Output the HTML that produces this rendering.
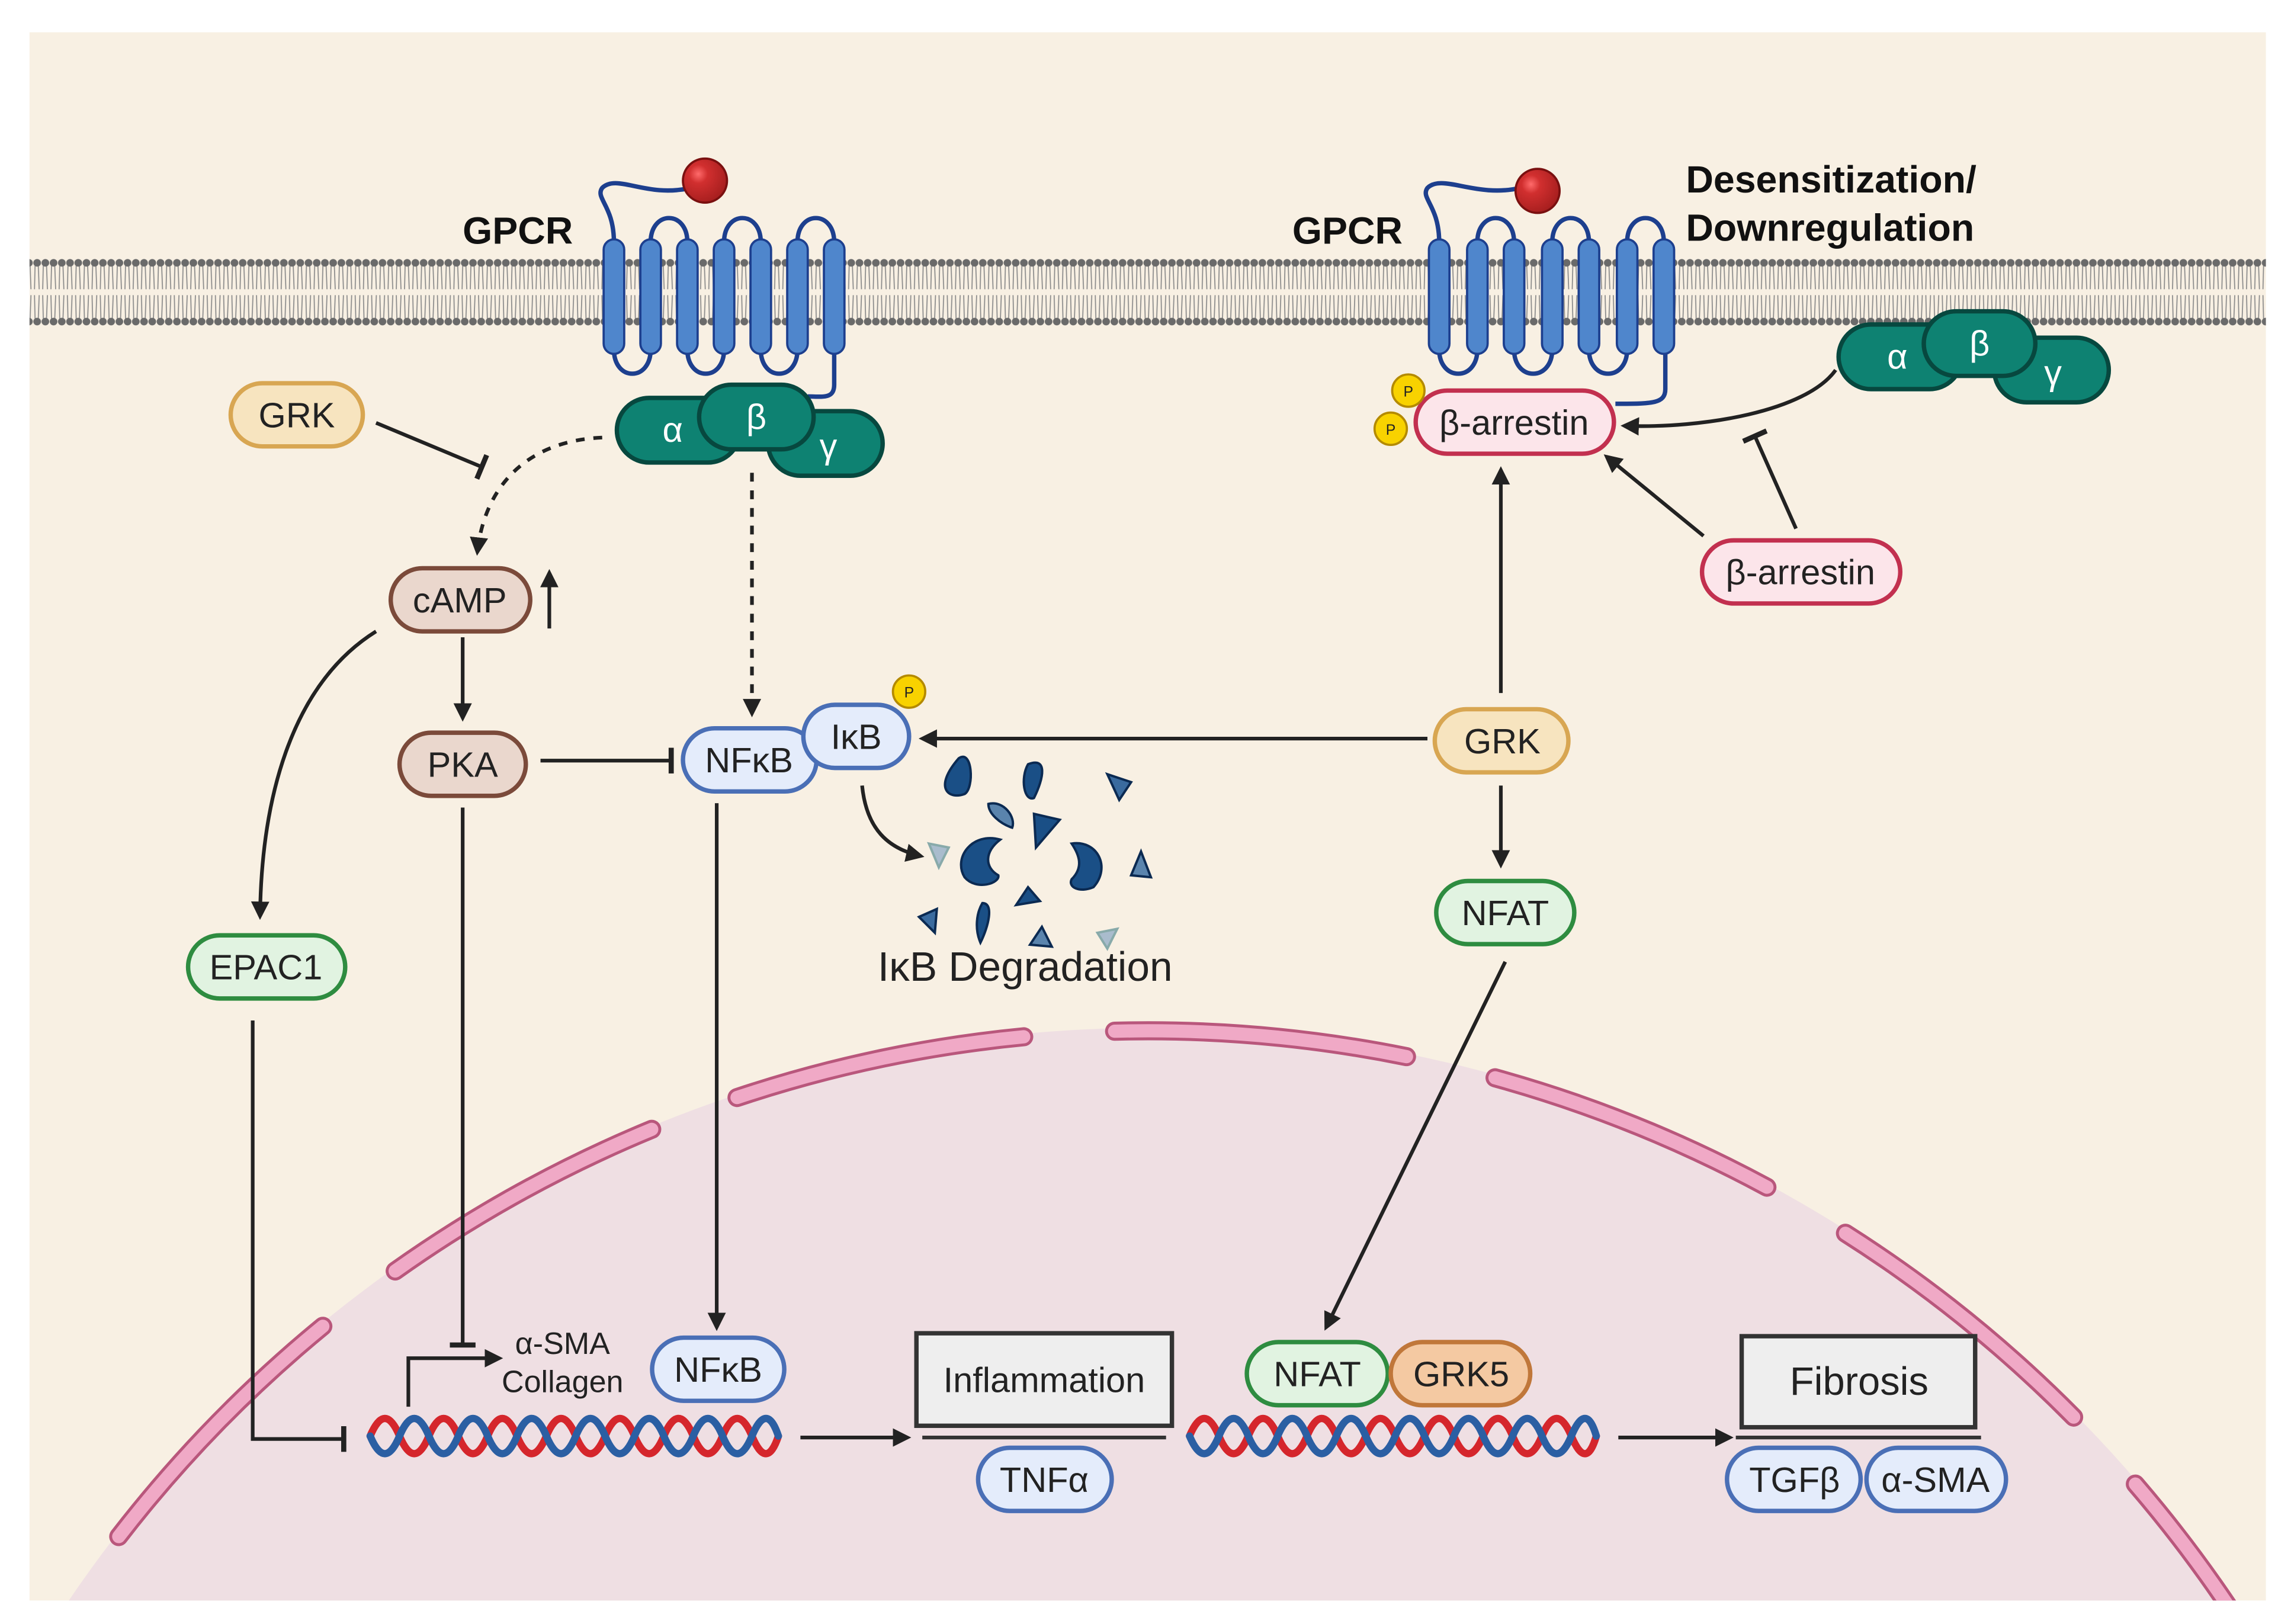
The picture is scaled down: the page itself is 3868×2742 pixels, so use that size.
<!DOCTYPE html>
<html><head><meta charset="utf-8"><style>
html,body{margin:0;padding:0;background:#fff;width:3868px;height:2742px;overflow:hidden}
svg{display:block;position:absolute;left:0;top:0}
text{font-family:"Liberation Sans",sans-serif}
</style></head><body>
<svg width="3868" height="2742" viewBox="0 0 1560 1106" xmlns="http://www.w3.org/2000/svg">
<defs>
<pattern id="mem" x="0" y="175" width="5.6" height="48" patternUnits="userSpaceOnUse">
<line x1="1.4" y1="6" x2="1.0" y2="22" stroke="#8a8a8a" stroke-width="0.7"/>
<line x1="3.6" y1="6" x2="4.2" y2="22" stroke="#8a8a8a" stroke-width="0.7"/>
<line x1="1.0" y1="26" x2="1.4" y2="42" stroke="#8a8a8a" stroke-width="0.7"/>
<line x1="4.2" y1="26" x2="3.6" y2="42" stroke="#8a8a8a" stroke-width="0.7"/>
<circle cx="2.8" cy="4" r="2.6" fill="#6a6a6a"/>
<circle cx="2.8" cy="44" r="2.6" fill="#6a6a6a"/>
</pattern>
<marker id="ah" viewBox="0 0 10 10" refX="8" refY="5" markerWidth="5" markerHeight="5" orient="auto-start-reverse"><path d="M0,0 L10,5 L0,10 z" fill="#222"/></marker>
<marker id="tb" viewBox="0 0 4 20" refX="2" refY="10" markerWidth="2" markerHeight="7" orient="auto"><rect x="0" y="0" width="4" height="20" fill="#222"/></marker>
<clipPath id="panel"><rect x="20" y="22" width="1523" height="1068"/></clipPath>
<radialGradient id="ball" cx="0.35" cy="0.35" r="0.7"><stop offset="0" stop-color="#ff6b6b"/><stop offset="0.3" stop-color="#d12f2f"/><stop offset="1" stop-color="#a51e1e"/></radialGradient>
</defs>
<rect x="0" y="0" width="1560" height="1106" fill="#fff"/>
<rect x="20" y="22" width="1523" height="1068" fill="#f8f0e3"/>
<g clip-path="url(#panel)">
<circle cx="782" cy="1588" r="888" fill="#efdfe3"/>
<circle cx="782" cy="1588" r="886" fill="none" stroke="#b9577c" stroke-width="13" stroke-dasharray="200 62" stroke-dashoffset="40" stroke-linecap="round"/>
<circle cx="782" cy="1588" r="886" fill="none" stroke="#f0a9c6" stroke-width="9" stroke-dasharray="200 62" stroke-dashoffset="40" stroke-linecap="round"/>
</g>
<rect x="20" y="175" width="1523" height="48" fill="url(#mem)"/>

<!-- GPCR left -->
<g stroke="#1d3f8e" stroke-width="3" fill="none">
<path d="M418 165 C418 140 405 135 410 128 C420 118 440 135 470 128"/>
<path d="M443 165 C443 143 468 143 468 165 M493 165 C493 143 518 143 518 165 M543 165 C543 143 568 143 568 165"/>
<path d="M418 238 C418 260 443 260 443 238 M468 238 C468 260 493 260 493 238 M518 238 C518 260 543 260 543 238"/>
<path d="M568 238 L568 262 C568 272 560 270 550 270"/>
</g>
<g fill="#4f86cc" stroke="#1d3f8e" stroke-width="1.5">
<rect x="411" y="163" width="14" height="78" rx="7"/><rect x="436" y="163" width="14" height="78" rx="7"/><rect x="461" y="163" width="14" height="78" rx="7"/><rect x="486" y="163" width="14" height="78" rx="7"/><rect x="511" y="163" width="14" height="78" rx="7"/><rect x="536" y="163" width="14" height="78" rx="7"/><rect x="561" y="163" width="14" height="78" rx="7"/>
</g>
<circle cx="480" cy="123" r="15" fill="url(#ball)" stroke="#7a1010" stroke-width="1.5"/>
<text x="315" y="166" font-size="26" font-weight="bold" fill="#111">GPCR</text>
<g stroke="#07483f" stroke-width="3" fill="#0e8272">
<rect x="523" y="280" width="78" height="44" rx="22"/>
<rect x="420" y="271" width="84" height="44" rx="22"/>
<rect x="476" y="262" width="78" height="44" rx="22"/>
</g>
<g fill="#fff" font-size="24" text-anchor="middle"><text x="458" y="301">α</text><text x="515" y="292">β</text><text x="564" y="312">γ</text></g>

<!-- GPCR right -->
<g stroke="#1d3f8e" stroke-width="3" fill="none">
<path d="M980 165 C980 140 967 135 972 128 C982 118 1005 135 1035 128"/>
<path d="M1006 165 C1006 143 1031 143 1031 165 M1057 165 C1057 143 1082 143 1082 165 M1108 165 C1108 143 1133 143 1133 165"/>
<path d="M980 238 C980 260 1006 260 1006 238 M1031 238 C1031 260 1057 260 1057 238 M1082 238 C1082 260 1108 260 1108 238"/>
<path d="M1134 238 L1134 265 C1134 275 1125 275 1100 275"/>
</g>
<g fill="#4f86cc" stroke="#1d3f8e" stroke-width="1.5">
<rect x="973" y="163" width="14" height="78" rx="7"/><rect x="999" y="163" width="14" height="78" rx="7"/><rect x="1024" y="163" width="14" height="78" rx="7"/><rect x="1050" y="163" width="14" height="78" rx="7"/><rect x="1075" y="163" width="14" height="78" rx="7"/><rect x="1101" y="163" width="14" height="78" rx="7"/><rect x="1126" y="163" width="14" height="78" rx="7"/>
</g>
<circle cx="1047" cy="130" r="15" fill="url(#ball)" stroke="#7a1010" stroke-width="1.5"/>
<text x="880" y="166" font-size="26" font-weight="bold" fill="#111">GPCR</text>
<text x="1148" y="131" font-size="26" font-weight="bold" fill="#111">Desensitization/</text>
<text x="1148" y="164" font-size="26" font-weight="bold" fill="#111">Downregulation</text>
<g stroke="#07483f" stroke-width="3" fill="#0e8272">
<rect x="1358" y="230" width="78" height="44" rx="22"/>
<rect x="1252" y="221" width="84" height="44" rx="22"/>
<rect x="1310" y="212" width="76" height="44" rx="22"/>
</g>
<g fill="#fff" font-size="24" text-anchor="middle"><text x="1292" y="251">α</text><text x="1348" y="242">β</text><text x="1398" y="262">γ</text></g>

<!-- edges -->
<g stroke="#222" stroke-width="2.5" fill="none">
<path d="M256 288 L328 318" marker-end="url(#tb)"/>
<path d="M410 298 C360 300 330 330 325 376" stroke-dasharray="6 6" marker-end="url(#ah)"/>
<path d="M512 322 L512 486" stroke-dasharray="6 6" marker-end="url(#ah)"/>
<path d="M374 428 L374 390" marker-end="url(#ah)"/>
<path d="M315 434 L315 489" marker-end="url(#ah)"/>
<path d="M256 430 C200 465 178 540 177 624" marker-end="url(#ah)"/>
<path d="M368 518 L457 518" marker-end="url(#tb)"/>
<path d="M315 550 L315 916" marker-end="url(#tb)"/>
<path d="M172 695 L172 980 L234 980" marker-end="url(#tb)"/>
<path d="M488 547 L488 904" marker-end="url(#ah)"/>
<path d="M587 535 C590 565 605 578 627 583" marker-end="url(#ah)"/>
<path d="M972 503 L628 503" marker-end="url(#ah)"/>
<path d="M1022 472 L1022 320" marker-end="url(#ah)"/>
<path d="M1022 535 L1022 589" marker-end="url(#ah)"/>
<path d="M1025 655 L903 904" marker-end="url(#ah)"/>
<path d="M1250 252 C1230 280 1160 292 1106 290" marker-end="url(#ah)"/>
<path d="M1160 365 L1094 311" marker-end="url(#ah)"/>
<path d="M1223 360 L1195 297" marker-end="url(#tb)"/>
<path d="M545 979 L618 979" marker-end="url(#ah)"/>
<path d="M1102 979 L1178 979" marker-end="url(#ah)"/>
<path d="M278 958 L278 925 L340 925" marker-end="url(#ah)"/>
</g>

<!-- nodes -->
<g font-size="24" text-anchor="middle" fill="#222">
<rect x="157" y="261" width="90" height="43" rx="21.5" fill="#f7e4bf" stroke="#d8a652" stroke-width="3"/><text x="202" y="291">GRK</text>
<rect x="266" y="387" width="95" height="43" rx="21.5" fill="#ead7cd" stroke="#7b4a3a" stroke-width="3"/><text x="313" y="417">cAMP</text>
<rect x="272" y="499" width="86" height="43" rx="21.5" fill="#ead7cd" stroke="#7b4a3a" stroke-width="3"/><text x="315" y="529">PKA</text>
<rect x="128" y="637" width="107" height="43" rx="21.5" fill="#e1f3e1" stroke="#2e8c40" stroke-width="3"/><text x="181" y="667">EPAC1</text>
<rect x="465" y="496" width="91" height="43" rx="21.5" fill="#e4ecfb" stroke="#4a6fb6" stroke-width="3"/><text x="510" y="526">NFκB</text>
<rect x="547" y="480" width="72" height="43" rx="21.5" fill="#e4ecfb" stroke="#4a6fb6" stroke-width="3"/><text x="583" y="510">IκB</text>
<circle cx="619" cy="471" r="11" fill="#f8d200" stroke="#b48a00" stroke-width="1.5"/><text x="619" y="475" font-size="10">P</text>
<rect x="977" y="483" width="91" height="43" rx="21.5" fill="#f7e4bf" stroke="#d8a652" stroke-width="3"/><text x="1023" y="513">GRK</text>
<rect x="978" y="600" width="94" height="43" rx="21.5" fill="#e1f3e1" stroke="#2e8c40" stroke-width="3"/><text x="1025" y="630">NFAT</text>
<rect x="964" y="266" width="135" height="43" rx="21.5" fill="#fce5ea" stroke="#c2304f" stroke-width="3"/><text x="1031" y="296">β-arrestin</text>
<circle cx="959" cy="266" r="11" fill="#f8d200" stroke="#b48a00" stroke-width="1.5"/><text x="959" y="270" font-size="10">P</text>
<circle cx="947" cy="292" r="11" fill="#f8d200" stroke="#b48a00" stroke-width="1.5"/><text x="947" y="296" font-size="10">P</text>
<rect x="1159" y="368" width="135" height="43" rx="21.5" fill="#fce5ea" stroke="#c2304f" stroke-width="3"/><text x="1226" y="398">β-arrestin</text>
<text x="698" y="668" font-size="28">IκB Degradation</text>
<rect x="444" y="911" width="90" height="43" rx="21.5" fill="#e4ecfb" stroke="#4a6fb6" stroke-width="3"/><text x="489" y="941">NFκB</text>
<text x="383" y="922" font-size="21">α-SMA</text>
<text x="383" y="948" font-size="21">Collagen</text>
<rect x="624" y="908" width="174" height="63" fill="#eeeeee" stroke="#333" stroke-width="3"/><text x="711" y="948">Inflammation</text>
<line x1="628" y1="979" x2="794" y2="979" stroke="#333" stroke-width="2.5"/>
<rect x="666" y="986" width="91" height="43" rx="21.5" fill="#e4ecfb" stroke="#4a6fb6" stroke-width="3"/><text x="711" y="1016">TNFα</text>
<rect x="849" y="914" width="96" height="43" rx="21.5" fill="#e1f3e1" stroke="#2e8c40" stroke-width="3"/><text x="897" y="944">NFAT</text>
<rect x="947" y="914" width="95" height="43" rx="21.5" fill="#f4c9a2" stroke="#c0773a" stroke-width="3"/><text x="995" y="944">GRK5</text>
<rect x="1186" y="910" width="159" height="62" fill="#eeeeee" stroke="#333" stroke-width="3"/><text x="1266" y="950" font-size="27">Fibrosis</text>
<line x1="1182" y1="979" x2="1349" y2="979" stroke="#333" stroke-width="2.5"/>
<rect x="1176" y="986" width="91" height="43" rx="21.5" fill="#e4ecfb" stroke="#4a6fb6" stroke-width="3"/><text x="1222" y="1016">TGFβ</text>
<rect x="1271" y="986" width="95" height="43" rx="21.5" fill="#e4ecfb" stroke="#4a6fb6" stroke-width="3"/><text x="1318" y="1016">α-SMA</text>
</g>

<!-- fragments -->
<g stroke="#0b2a52" stroke-width="1.2" transform="translate(700 588) scale(1.35) translate(-700 -588)">
<path d="M665 535 C672 530 673 550 668 553 C660 556 652 550 665 535z" fill="#1a4f86"/>
<path d="M700 538 C710 534 708 545 703 555 C698 557 696 545 700 538z" fill="#1a4f86"/>
<path d="M740 543 L752 547 L746 556z" fill="#3a6b9f"/>
<path d="M680 558 C688 556 694 565 692 570 C686 568 680 563 680 558z" fill="#5a84ad"/>
<path d="M703 563 L716 566 L704 580z" fill="#1a4f86"/>
<path d="M686 576 C672 572 662 585 668 595 C674 602 686 598 685 594 C678 590 678 582 686 576z" fill="#1a4f86"/>
<path d="M722 578 C735 576 742 590 733 600 C726 603 720 600 722 596 C728 590 726 584 722 578z" fill="#1a4f86"/>
<path d="M700 600 L706 607 L694 609z" fill="#1a4f86"/>
<path d="M757 582 L762 595 L752 594z" fill="#5a84ad"/>
<path d="M650 578 L660 580 L655 590z" fill="#a9bccd" stroke="#8aa"/>
<path d="M645 615 L654 611 L653 623z" fill="#3a6b9f"/>
<path d="M677 608 C683 608 680 620 676 628 C673 621 674 613 677 608z" fill="#1a4f86"/>
<path d="M707 620 L712 630 L701 629z" fill="#5a84ad"/>
<path d="M735 623 L745 621 L740 631z" fill="#a9bccd" stroke="#8aa"/>
</g>

<!-- DNA -->
<g fill="none" stroke-width="5" stroke-linecap="round">
<path d="M252 978 Q262 954 272 978 T292 978 T312 978 T332 978 T352 978 T372 978 T392 978 T412 978 T432 978 T452 978 T472 978 T492 978 T512 978 T530 978" stroke="#d5262c"/>
<path d="M252 978 Q262 1002 272 978 T292 978 T312 978 T332 978 T352 978 T372 978 T392 978 T412 978 T432 978 T452 978 T472 978 T492 978 T512 978 T530 978" stroke="#2b5fa3"/>
<path d="M810 978 Q820 954 830 978 T850 978 T870 978 T890 978 T910 978 T930 978 T950 978 T970 978 T990 978 T1010 978 T1030 978 T1050 978 T1070 978 T1087 978" stroke="#d5262c"/>
<path d="M810 978 Q820 1002 830 978 T850 978 T870 978 T890 978 T910 978 T930 978 T950 978 T970 978 T990 978 T1010 978 T1030 978 T1050 978 T1070 978 T1087 978" stroke="#2b5fa3"/>
</g>
</svg>
</body></html>
